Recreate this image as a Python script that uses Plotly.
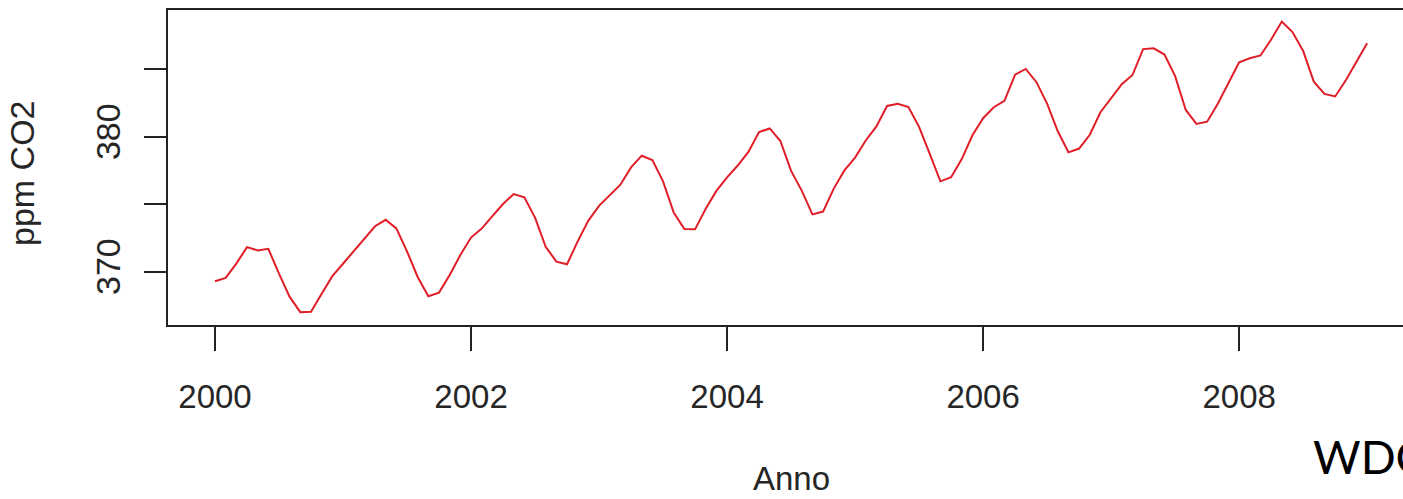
import plotly.graph_objects as go

# Monthly CO2 (ppm), Jan 2000 .. Jan 2009
years = [2000, 2001, 2002, 2003, 2004, 2005, 2006, 2007, 2008]
co2_2000 = [369.29, 369.54, 370.60, 371.82, 371.58, 371.70, 369.86, 368.13, 367.00, 367.03, 368.37, 369.67]
co2_2001 = [370.59, 371.51, 372.43, 373.37, 373.85, 373.21, 371.51, 369.61, 368.18, 368.45, 369.76, 371.24]
co2_2002 = [372.53, 373.20, 374.12, 375.02, 375.76, 375.52, 374.01, 371.85, 370.75, 370.55, 372.25, 373.79]
co2_2003 = [374.88, 375.64, 376.45, 377.73, 378.60, 378.28, 376.70, 374.38, 373.17, 373.14, 374.66, 375.99]
co2_2004 = [377.00, 377.87, 378.88, 380.35, 380.62, 379.69, 377.47, 376.01, 374.25, 374.46, 376.16, 377.51]
co2_2005 = [378.46, 379.73, 380.77, 382.29, 382.45, 382.21, 380.74, 378.74, 376.70, 377.00, 378.35, 380.11]
co2_2006 = [381.38, 382.19, 382.67, 384.61, 385.03, 384.05, 382.46, 380.41, 378.85, 379.13, 380.15, 381.82]
co2_2007 = [382.89, 383.90, 384.58, 386.50, 386.56, 386.10, 384.50, 381.99, 380.96, 381.12, 382.45, 383.95]
co2_2008 = [385.52, 385.82, 386.03, 387.21, 388.54, 387.76, 386.36, 384.09, 383.18, 382.99, 384.19, 385.56]
co2_2009 = [386.94]

x_tick_vals = [2000, 2002, 2004, 2006, 2008]
x_tick_text = ["2000", "2002", "2004", "2006", "2008"]
y_tick_vals = [370, 375, 380, 385]
y_tick_text = ["370", "", "380", ""]

series = [co2_2000, co2_2001, co2_2002, co2_2003, co2_2004, co2_2005, co2_2006, co2_2007, co2_2008]
t, y = [], []
for yr, vals in zip(years, series):
    for m, v in enumerate(vals):
        t.append(yr + m / 12)
        y.append(v)
t.append(2009.0)
y.append(co2_2009[0])

FONT = "Liberation Sans, Arial, Helvetica, sans-serif"
AX = "#222222"
TXT = "#262626"

fig = go.Figure()
fig.add_trace(go.Scatter(x=t, y=y, mode="lines",
                         line=dict(color="#e01e28", width=2),
                         showlegend=False, hoverinfo="skip"))

fig.update_layout(
    width=1403, height=499,
    margin=dict(l=168, r=0, t=10, b=174),
    paper_bgcolor="white", plot_bgcolor="white",
    font=dict(family=FONT, size=33, color=TXT),
    xaxis=dict(range=[1999.633, 2009.28], showgrid=False, zeroline=False,
               showline=True, mirror=True, linecolor=AX, linewidth=2,
               ticks="outside", ticklen=24, tickwidth=2, tickcolor=AX,
               tickvals=x_tick_vals, ticktext=x_tick_text,
               tickfont=dict(size=33, family=FONT, color=TXT),
               ticklabelstandoff=17),
    yaxis=dict(range=[366.05, 389.40], showgrid=False, zeroline=False,
               showline=True, mirror=False, linecolor=AX, linewidth=2,
               ticks="outside", ticklen=22, tickwidth=2, tickcolor=AX,
               tickvals=y_tick_vals, ticktext=y_tick_text, tickangle=-90,
               tickfont=dict(size=34, family=FONT, color=TXT),
               ticklabelstandoff=10),
)

fig.add_annotation(text="Anno", xref="paper", yref="paper",
                   x=(791 - 168) / 1235, y=-(478 - 325) / 315,
                   xanchor="center", yanchor="middle", showarrow=False,
                   font=dict(size=33, family=FONT, color=TXT))
fig.add_annotation(text="ppm CO2", xref="paper", yref="paper",
                   x=-(168 - 22) / 1235, y=(325 - 173) / 315,
                   xanchor="center", yanchor="middle", showarrow=False,
                   textangle=-90,
                   font=dict(size=34, family=FONT, color=TXT))
fig.add_annotation(text="WDC", xref="paper", yref="paper",
                   x=(1311 - 168) / 1235, y=-(456 - 325) / 315,
                   xanchor="left", yanchor="middle", showarrow=False,
                   font=dict(size=46, family="Lato, Open Sans, sans-serif", color="#000000"))

fig.write_html("out.html")
